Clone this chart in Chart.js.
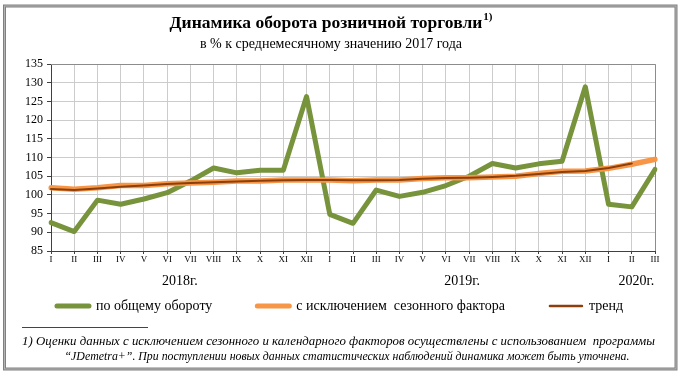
<!DOCTYPE html>
<html><head><meta charset="utf-8">
<script src="https://cdn.jsdelivr.net/npm/chart.js@4/dist/chart.umd.min.js"></script>
<style>html,body{margin:0;padding:0;background:#fff;}#wrap{position:relative;width:680px;height:372px;}</style>
</head><body><div id="wrap"><canvas id="c" width="680" height="372"></canvas></div>
<script>
// ---- data ----
const months = ['I','II','III','IV','V','VI','VII','VIII','IX','X','XI','XII',
                'I','II','III','IV','V','VI','VII','VIII','IX','X','XI','XII',
                'I','II','III'];
const yearLabels = ['2018г.','2019г.','2020г.'];
const yearCenters = [5.55, 17.7, 25.2];
const totalTurnover = [92.6, 90.2, 98.6, 97.5, 98.9, 100.6, 103.7, 107.2, 105.9, 106.6, 106.6, 126.3,
                       94.8, 92.4, 101.3, 99.6, 100.7, 102.5, 105.0, 108.4, 107.2, 108.3, 109.0, 128.9,
                       97.5, 96.8, 106.8];
const seasonallyAdjusted = [101.9, 101.5, 101.9, 102.5, 102.5, 103.0, 103.2, 103.4, 103.7, 103.7, 104.0, 104.0,
                            104.0, 103.8, 104.0, 104.0, 104.4, 104.6, 104.6, 104.8, 105.0, 105.7, 106.3, 106.4,
                            107.1, 108.2, 109.5];
const trend = [101.6, 101.3, 101.7, 102.2, 102.5, 102.9, 103.2, 103.4, 103.6, 103.8, 103.9, 104.0,
               104.0, 103.9, 103.9, 104.0, 104.3, 104.5, 104.6, 104.8, 105.1, 105.6, 106.1, 106.4,
               107.2, 108.4, null];
const seriesNames = ['по общему обороту', 'с исключением  сезонного фактора', 'тренд'];
const yMin = 85, yMax = 135, yStep = 5;
const titleText = 'Динамика оборота розничной торговли';
const titleSup = '1)';
const subtitleText = 'в % к среднемесячному значению 2017 года';
const footnoteLines = [
  '1) Оценки данных с исключением сезонного и календарного факторов осуществлены с использованием  программы',
  '“JDemetra+”. При поступлении новых данных статистических наблюдений динамика может быть уточнена.'
];

const SERIF = '"Liberation Serif", "Times New Roman", serif';
const GREEN = '#77933C', ORANGE = '#F79646', BROWN = '#8A3F0C';

function drawStretched(ctx, text, x, y, targetW, align) {
  const w = ctx.measureText(text).width;
  const sx = targetW / w;
  ctx.save();
  ctx.translate(align === 'center' ? x - targetW / 2 : x, y);
  ctx.scale(sx, 1);
  ctx.textAlign = 'left';
  ctx.fillText(text, 0, 0);
  ctx.restore();
}

const decor = {
  id: 'decor',
  beforeDraw(chart) {
    const ctx = chart.ctx;
    ctx.save(); ctx.fillStyle = '#fff'; ctx.fillRect(0, 0, chart.width, chart.height); ctx.restore();
  },
  beforeDatasetsDraw(chart) {
    const ctx = chart.ctx, a = chart.chartArea;
    ctx.save();
    ctx.strokeStyle = '#8c8c8c'; ctx.lineWidth = 1;
    ctx.beginPath();
    ctx.moveTo(a.left, a.top + 0.5); ctx.lineTo(a.right + 0.5, a.top + 0.5);
    ctx.lineTo(a.right + 0.5, a.bottom);
    ctx.stroke();
    ctx.restore();
  },
  afterDraw(chart) {
    const ctx = chart.ctx;
    ctx.save();
    ctx.fillStyle = '#000';
    ctx.textBaseline = 'middle';
    // title
    ctx.font = 'bold 17.5px ' + SERIF;
    const tw = ctx.measureText(titleText).width;
    ctx.font = 'bold 11px ' + SERIF;
    const sw = ctx.measureText(titleSup).width;
    const tx = 331 - (tw + sw + 1) / 2;
    ctx.font = 'bold 17.5px ' + SERIF;
    ctx.textAlign = 'left';
    ctx.fillText(titleText, tx, 23);
    ctx.font = 'bold 11px ' + SERIF;
    ctx.fillText(titleSup, tx + tw + 1, 17);
    // subtitle
    ctx.font = '14px ' + SERIF;
    ctx.textAlign = 'center';
    ctx.fillText(subtitleText, 331, 44);
    // year labels
    const xs = chart.scales.x;
    ctx.font = '14px ' + SERIF;
    yearLabels.forEach((t, i) => ctx.fillText(t, xs.getPixelForValue(yearCenters[i]), 281));
    // separator
    ctx.strokeStyle = '#444'; ctx.lineWidth = 1;
    ctx.beginPath(); ctx.moveTo(22, 327.5); ctx.lineTo(148, 327.5); ctx.stroke();
    // footnote
    ctx.font = 'italic 13px ' + SERIF;
    drawStretched(ctx, footnoteLines[0], 22, 342, 633, 'left');
    drawStretched(ctx, footnoteLines[1], 347, 357, 565, 'center');
    // outer border
    ctx.strokeStyle = '#808080'; ctx.lineWidth = 3;
    ctx.strokeRect(4.5, 6, 671.5, 363);
    ctx.strokeStyle = '#b4b4b4'; ctx.lineWidth = 1;
    ctx.strokeRect(4.5, 6, 671.5, 363);
    ctx.restore();
  }
};

new Chart(document.getElementById('c'), {
  type: 'line',
  data: {
    labels: months,
    datasets: [
      { label: seriesNames[0], data: totalTurnover, borderColor: GREEN, backgroundColor: GREEN,
        borderWidth: 5, order: 3 },
      { label: seriesNames[1], data: seasonallyAdjusted, borderColor: ORANGE, backgroundColor: ORANGE,
        borderWidth: 5.5, order: 2 },
      { label: seriesNames[2], data: trend, borderColor: BROWN, backgroundColor: BROWN,
        borderWidth: 2, order: 1 }
    ]
  },
  options: {
    responsive: false,
    devicePixelRatio: 1,
    animation: false,
    layout: { padding: { left: 0, right: 0, top: 64, bottom: 49 } },
    elements: {
      point: { radius: 0, hoverRadius: 0 },
      line: { tension: 0, borderJoinStyle: 'round', borderCapStyle: 'round', fill: false }
    },
    scales: {
      x: {
        offset: false,
        afterFit(s) { s.height = 3; },
        afterUpdate(s) { s._computeLabelArea = () => undefined; },
        grid: { display: true, drawOnChartArea: true, color: '#cccccc', lineWidth: 1, drawTicks: true, tickLength: 3, tickColor: '#404040' },
        border: { color: '#404040', width: 1 },
        ticks: { autoSkip: false, maxRotation: 0, minRotation: 0, padding: 0,
                 font: { family: SERIF, size: 9 }, color: '#000' }
      },
      y: {
        min: yMin, max: yMax,
        afterFit(s) { s.width = 51; },
        grid: { color: '#cccccc', lineWidth: 1, drawTicks: true, tickLength: 4, tickColor: '#404040' },
        border: { color: '#404040', width: 1 },
        ticks: { stepSize: yStep, autoSkip: false, padding: 4, font: { family: SERIF, size: 12 }, color: '#000' }
      },
      yRightSpace: {
        type: 'linear', position: 'right', display: true,
        afterFit(s) { s.width = 25; },
        grid: { display: false, drawTicks: false },
        border: { display: false },
        ticks: { display: false }
      }
    },
    plugins: {
      title: { display: false },
      tooltip: { enabled: false },
      legend: {
        display: true,
        position: 'bottom',
        labels: {
          padding: 45,
          usePointStyle: true,
          pointStyleWidth: 32,
          color: '#000',
          font: { family: SERIF, size: 14 },
          sort: (a, b) => a.datasetIndex - b.datasetIndex,
          generateLabels(chart) {
            return chart.data.datasets.map((ds, i) => ({
              text: ds.label,
              fillStyle: ds.borderColor,
              strokeStyle: ds.borderColor,
              lineWidth: i === 2 ? 2.5 : 5,
              lineCap: 'round',
              pointStyle: 'line',
              hidden: false,
              datasetIndex: i,
              fontColor: '#000'
            }));
          }
        }
      }
    }
  },
  plugins: [decor]
});
</script>
</body></html>
